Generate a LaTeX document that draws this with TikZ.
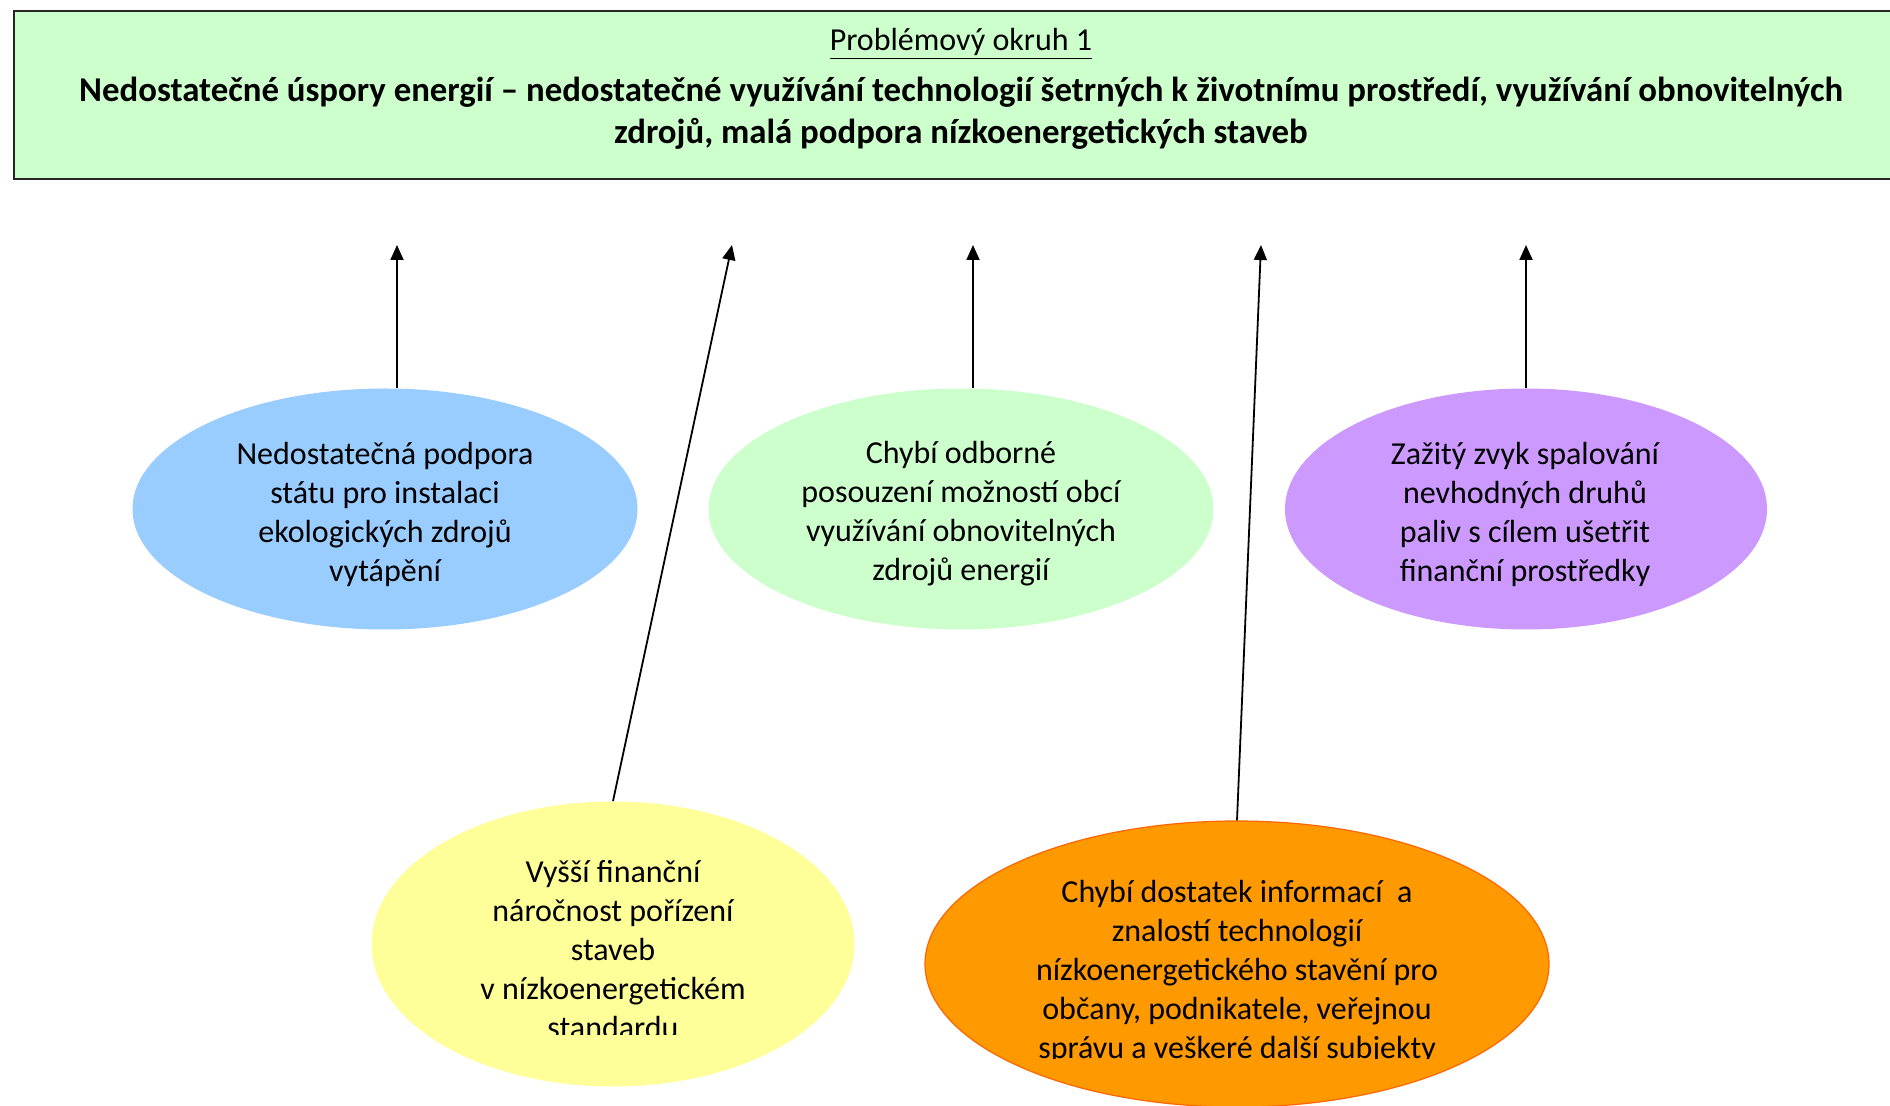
\documentclass[tikz,border=0pt]{standalone}
\usepackage{fontspec}
\setmainfont{Carlito}
\usetikzlibrary{arrows.meta,shapes.geometric}
\definecolor{boxgreen}{HTML}{CCFFCC}
\definecolor{eblue}{HTML}{99CCFF}
\definecolor{eyellow}{HTML}{FFFF99}
\definecolor{epurple}{HTML}{CC99FF}
\definecolor{eorange}{HTML}{FF9900}
\definecolor{eorangeline}{HTML}{FF6600}
\tikzset{
  arr/.style={line width=0.9pt,-{Triangle[length=7.5pt,width=6.5pt]}},
  cause/.style={ellipse,inner sep=0pt,draw=none},
  ctext/.style={align=center,inner sep=0pt,font=\fontsize{16pt}{19.5pt}\selectfont},
}
\begin{document}
\begin{tikzpicture}[x=0.5pt,y=-0.5pt]
\useasboundingbox (0,0) rectangle (1890,1106);
\begin{scope}
\clip (0,0) rectangle (1890,1106);
% top box
\node[draw=black!85,line width=1.2pt,fill=boxgreen,rectangle,inner sep=0pt,
  minimum width=1890pt-6pt,minimum height=84pt,anchor=north west] (top) at (13,10) {};
\node[ctext,font=\fontsize{16pt}{20pt}\selectfont] (ttl) at (961,44) {\underline{Problémový okruh 1}};
\node[ctext,font=\fontsize{17.4pt}{21pt}\bfseries\selectfont] (sub) at (961,113)
  {Nedostatečné úspory energií – nedostatečné využívání technologií šetrných k životnímu prostředí, využívání obnovitelných\\
   zdrojů, malá podpora nízkoenergetických staveb};

% ellipses
\node[cause,fill=eblue,minimum width=252.5pt,minimum height=120.5pt] (e1) at (385,509) {};
\node[ctext] (t1) at (385,514) {Nedostatečná podpora\\státu pro instalaci\\ekologických zdrojů\\vytápění};

\node[cause,fill=boxgreen,minimum width=252.5pt,minimum height=120.5pt] (e2) at (961,509) {};
\node[ctext] (t2) at (961,514) {Chybí odborné\\posouzení možností obcí\\využívání obnovitelných\\zdrojů energií};

\node[cause,fill=epurple,minimum width=241pt,minimum height=120.5pt] (e3) at (1526,509) {};
\node[ctext] (t3) at (1525,514) {Zažitý zvyk spalování\\nevhodných druhů\\paliv s cílem ušetřit\\finanční prostředky};

\node[cause,fill=eyellow,minimum width=241.5pt,minimum height=142.5pt] (e4) at (613,944) {};
\begin{scope}
\clip (380,840) rectangle (850,1034);
\node[ctext,anchor=north] (t4) at (613,860) {Vyšší finanční\\náročnost pořízení\\staveb\\v nízkoenergetickém\\standardu};
\end{scope}

\node[cause,fill=eorange,draw=eorangeline,line width=0.6pt,minimum width=312pt,minimum height=143pt] (e5) at (1237,964) {};
\begin{scope}
\clip (930,860) rectangle (1545,1058);
\node[ctext,anchor=north] (t5) at (1237,880) {Chybí dostatek informací~ a\\znalostí technologií\\nízkoenergetického stavění pro\\občany, podnikatele, veřejnou\\správu a veškeré další subjekty};
\end{scope}

% arrow tips
\coordinate (a1) at (397,245);
\coordinate (a2) at (732,245);
\coordinate (a3) at (973,245);
\coordinate (a4) at (1261,245);
\coordinate (a5) at (1526,245);
\draw[arr] (e1.north -| a1) -- (a1);
\draw[arr] (e4.north) -- (a2);
\draw[arr] (e2.north -| a3) -- (a3);
\draw[arr] (e5.north) -- (a4);
\draw[arr] (e3.north) -- (a5);
\end{scope}
\end{tikzpicture}
\end{document}
